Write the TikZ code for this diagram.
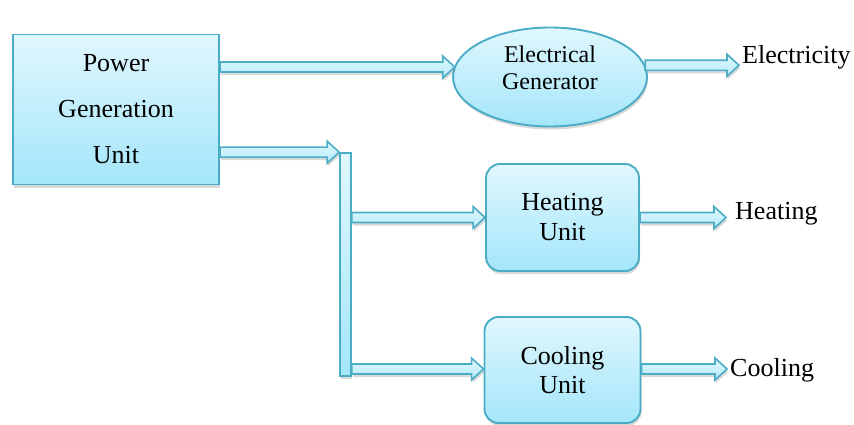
\documentclass[tikz,border=0pt]{standalone}
\usepackage{fontspec}
\setmainfont{Liberation Serif}
\usetikzlibrary{calc,shapes.geometric,shadows}

\definecolor{edgeblue}{HTML}{4BACC6}
\definecolor{filltop}{HTML}{E0F7FD}
\definecolor{fillbot}{HTML}{A4E6FA}

\tikzset{
    soft/.style={drop shadow={shadow xshift=1pt, shadow yshift=-3pt, opacity=0.25, fill=black!60}},
    unit/.style={draw=edgeblue, line width=1.9pt, top color=filltop, bottom color=fillbot,
        align=center, soft, inner sep=0pt},
    roundunit/.style={unit, rounded corners=14pt},
    gen/.style={unit, ellipse, minimum width=194pt, minimum height=99pt},
    flow/.style={draw=edgeblue, line width=1.6pt, line join=miter, top color=filltop, bottom color=fillbot!70!filltop, soft},
    outlbl/.style={anchor=west, inner sep=3pt, font=\fontsize{26}{30}\selectfont},
}

% block arrow from #1 to tip #2, kept at the height of #1
\newcommand{\blockarrow}[2]{%
    \path[flow] let \p1=(#1), \p2=(#2) in
        (\x1,{\y1+5pt}) -- ({\x2-12pt},{\y1+5pt}) -- ({\x2-12pt},{\y1+11pt}) -- (\x2,\y1)
        -- ({\x2-12pt},{\y1-11pt}) -- ({\x2-12pt},{\y1-5pt}) -- (\x1,{\y1-5pt}) -- cycle;}

\begin{document}
\begin{tikzpicture}[x=1pt, y=-1pt]
    \useasboundingbox (0,0) rectangle (854,425);
    % The units.
        \node[unit, minimum width=206pt, minimum height=150pt,
            font=\fontsize{26}{46}\selectfont] (pgu) at (116,109.5) {Power\\Generation\\Unit};
        \node[gen] (gen) at (550,77) {};
        \node[align=center, font=\fontsize{24}{27}\selectfont] (gentxt) at ([yshift=9pt]gen.center) {Electrical\\Generator};
        \node[roundunit, minimum width=153pt, minimum height=107pt,
            font=\fontsize{26}{30}\selectfont] (heat) at (562.5,217.5) {Heating\\Unit};
        \node[roundunit, minimum width=156pt, minimum height=106pt,
            font=\fontsize{26}{29}\selectfont] (cool) at (562.5,370) {Cooling\\Unit};
    % This is the splitting bar.
        \node[unit, line width=1.6pt, minimum width=11pt, minimum height=223pt] (bar) at (345.5,264.5) {};
    % Below nodes are the outputs.
        \node[outlbl] (elec) at (739,57) {Electricity};
        \node[outlbl] (heatout) at (732,214) {Heating};
        \node[outlbl] (coolout) at (727,370) {Cooling};
        \coordinate (heattip) at (726,217);
    % Arrows.
        \blockarrow{pgu.east |- 0,67}{gen.173}
        \blockarrow{pgu.east |- bar.north}{bar.north west}
        \blockarrow{bar.east |- heat.west}{heat.west}
        \blockarrow{bar.east |- 0,369}{cool.west}
        \blockarrow{gen.7}{elec.west}
        \blockarrow{heat.east}{heattip}
        \blockarrow{cool.east |- 0,369}{coolout.west}
\end{tikzpicture}
\end{document}
